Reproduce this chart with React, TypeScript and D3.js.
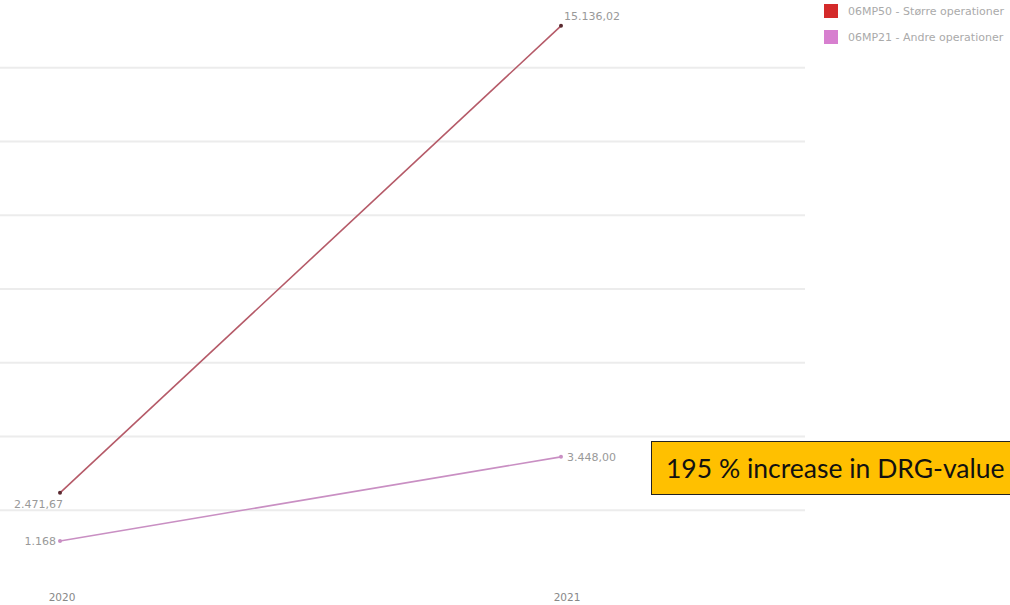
import React from 'react';
import * as d3 from 'd3';

const years = ['2020', '2021'];
const seriesNames = ['06MP50 - Større operationer', '06MP21 - Andre operationer'];
const majorValues = [2471.67, 15136.02];
const minorValues = [1168, 3448.0];
const valueLabels = [['2.471,67', '15.136,02'], ['1.168', '3.448,00']];
const gridValues = [2000, 4000, 6000, 8000, 10000, 12000, 14000];
const colors = ['#d42a2a', '#d77fcf'];
const lineColors = ['#b55a68', '#c98fc3'];
const note = '195 % increase in DRG-value';

const W = 1010;
const H = 605;

const App = () => {
  const x = d3.scalePoint().domain(years).range([60, 561]);
  const y = d3.scaleLinear().domain([0, 16000]).range([584, -6]);
  const line = d3
    .line<number>()
    .x((d, i) => x(years[i]) as number)
    .y(d => y(d));
  const series = [majorValues, minorValues];

  return (
    <svg width={W} height={H} style={{ position: 'absolute', left: 0, top: 0, background: '#fff' }}
      fontFamily="'DejaVu Sans', sans-serif">
      {gridValues.map(v => (
        <line key={v} x1={0} x2={805} y1={y(v)} y2={y(v)} stroke="#ececec" strokeWidth={2} />
      ))}
      {series.map((s, si) => (
        <g key={si}>
          <path d={line(s) || ''} fill="none" stroke={lineColors[si]} strokeWidth={1.6} />
          {s.map((v, i) => (
            <circle key={i} cx={x(years[i])} cy={y(v)} r={2} fill={si === 0 ? '#5a2a30' : lineColors[si]} />
          ))}
          <text x={(x(years[0]) as number) + (si === 0 ? 3 : -4)} y={y(s[0]) + (si === 0 ? 11 : 0)}
            dy="0.35em" textAnchor="end" fontSize={11} fill="#999">{valueLabels[si][0]}</text>
          <text x={(x(years[1]) as number) + (si === 0 ? 3 : 6)} y={y(s[1]) + (si === 0 ? -10 : 0)}
            dy="0.35em" textAnchor="start" fontSize={11} fill="#999">{valueLabels[si][1]}</text>
        </g>
      ))}
      {years.map(yr => (
        <text key={yr} x={(x(yr) as number) + (yr === years[0] ? 2 : 6)} y={601} textAnchor="middle" fontSize={10.5} fill="#888">{yr}</text>
      ))}
      {seriesNames.map((n, i) => (
        <g key={n} transform={`translate(824, ${4 + i * 26})`}>
          <rect width={14} height={14} fill={colors[i]} />
          <text x={24} y={7} dy="0.35em" fontSize={11} fill="#aaa">{n}</text>
        </g>
      ))}
      <rect x={651.5} y={441.5} width={400} height={53} fill="#ffc000" stroke="#222" strokeWidth={1} />
      <text x={666} y={478} fontSize={26.5} fontFamily="Lato, sans-serif" fill="#111">{note}</text>
    </svg>
  );
};

export default App;
